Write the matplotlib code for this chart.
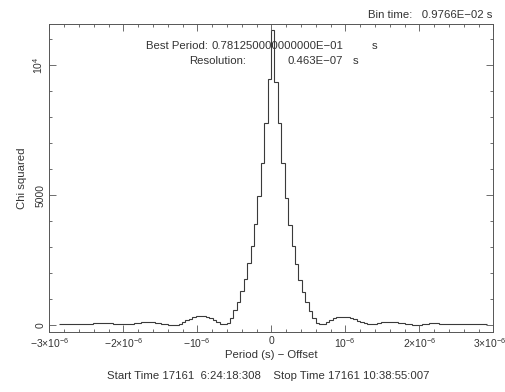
import numpy as np
import matplotlib
matplotlib.use('Agg')
import matplotlib.pyplot as plt
import matplotlib.transforms as mtransforms
from matplotlib.ticker import MultipleLocator, FixedLocator

plt.rcParams['font.family'] = ['Liberation Sans', 'DejaVu Sans']
plt.rcParams['mathtext.fontset'] = 'custom'
plt.rcParams['mathtext.rm'] = 'Liberation Sans'
plt.rcParams['mathtext.it'] = 'Liberation Sans'

# folding search result
resolution = 0.463e-07
centre = 0.02e-06
bin_index = np.arange(-62, 63)
chi2_left = [27, 27, 28, 28, 28, 30, 32, 38,            # -62 .. -55
             45, 55, 68, 80, 88, 90, 85, 72, 55, 38,    # -54 .. -45
             25, 22, 30, 48, 70, 95, 115, 127, 125, 115, # -44 .. -35
             95, 70, 45, 22, 8, 5, 15, 50, 110, 180,     # -34 .. -25
             250, 305, 338, 350, 345, 320, 270, 200, 120, 50,  # -24 .. -15
             25, 90, 280, 560, 900, 1300, 1780, 2400, 3050, 3870,  # -14 .. -5
             4950, 6250, 7770, 9460]                     # -4 .. -1
chi2_peak = [11350]
chi2_right = [9350, 7770, 6220, 4900, 3850, 3020, 2350, 1750, 1280, 880,  # 1 .. 10
              540, 260, 85, 25, 45, 110, 190, 260, 300, 320,  # 11 .. 20
              318, 300, 265, 215, 160, 105, 60, 30, 25, 40,   # 21 .. 30
              70, 100, 122, 127, 122, 108, 88, 65, 42, 22,    # 31 .. 40
              10, 8, 15, 30, 48, 60, 65, 62, 55, 45,          # 41 .. 50
              38, 32, 30, 28, 28, 27, 27, 27, 28, 28,         # 51 .. 60
              27, 27]                                         # 61 .. 62
chi2 = np.array(chi2_left + chi2_peak + chi2_right)

x_ticks = [-3e-6, -2e-6, -1e-6, 0, 1e-6, 2e-6, 3e-6]
x_labels = [r'$-3{\times}10^{-6}$', r'$-2{\times}10^{-6}$', r'$-10^{-6}$', '0',
            r'$10^{-6}$', r'$2{\times}10^{-6}$', r'$3{\times}10^{-6}$']
y_ticks = [0, 5000, 10000]
y_labels = ['0', '5000', r'$10^{4}$']

W, H = 505, 392
fig = plt.figure(figsize=(W / 100, H / 100), dpi=100)
ax = fig.add_axes([49.3 / W, 1 - 332 / H, (493.3 - 49.3) / W, (332 - 24) / H])

edges = centre + (np.append(bin_index, bin_index[-1] + 1) - 0.5) * resolution
ax.stairs(chi2, edges, color='#3a3a3a', lw=0.8, baseline=None)

ax.set_xlim(-3e-6, 3e-6)
ax.set_ylim(-269, 11577)
ax.xaxis.set_major_locator(FixedLocator(x_ticks))
ax.set_xticklabels(x_labels)
ax.xaxis.set_minor_locator(MultipleLocator(0.2e-6))
ax.yaxis.set_major_locator(FixedLocator(y_ticks))
ax.set_yticklabels(y_labels, rotation=90, va='center')
ax.yaxis.set_minor_locator(MultipleLocator(1000))
ax.tick_params(which='both', direction='in', top=True, right=True,
               colors='#555555', labelcolor='#333333', labelsize=7.5, width=0.6)
ax.tick_params(which='major', length=5, pad=3)
ax.tick_params(which='minor', length=2.5)
for s in ax.spines.values():
    s.set_color('#555555')
    s.set_linewidth(0.7)

# keep the last x label inside the figure
last = ax.get_xticklabels()[-1]
last.set_transform(last.get_transform() +
                   mtransforms.ScaledTranslation(-4 / 100, 0, fig.dpi_scale_trans))

ax.set_xlabel('Period (s) \u2212 Offset', fontsize=8.2, color='#333333', labelpad=0)
ax.set_ylabel('Chi squared', fontsize=8.2, color='#333333', labelpad=3)

tc = '#333333'
fs = 8.2
fig.text(492 / W, 1 - 15 / H, 'Bin time:   0.9766E\u221202 s', ha='right', va='center',
         fontsize=fs, color=tc)
fig.text(208 / W, 1 - 46 / H, 'Best Period:', ha='right', va='center', fontsize=fs, color=tc)
fig.text(211 / W, 1 - 46 / H, '0.781250000000000E\u221201', ha='left', va='center',
         fontsize=fs, color=tc)
fig.text(372 / W, 1 - 46 / H, 's', ha='left', va='center', fontsize=fs, color=tc)
fig.text(189 / W, 1 - 61 / H, 'Resolution:', ha='left', va='center', fontsize=fs, color=tc)
fig.text(287 / W, 1 - 61 / H, '0.463E\u221207', ha='left', va='center', fontsize=fs, color=tc)
fig.text(353 / W, 1 - 61 / H, 's', ha='left', va='center', fontsize=fs, color=tc)
fig.text(268 / W, 1 - 376 / H,
         'Start Time 17161  6:24:18:308    Stop Time 17161 10:38:55:007',
         ha='center', va='center', fontsize=fs, color=tc)

fig.savefig('out.png', dpi=100)
